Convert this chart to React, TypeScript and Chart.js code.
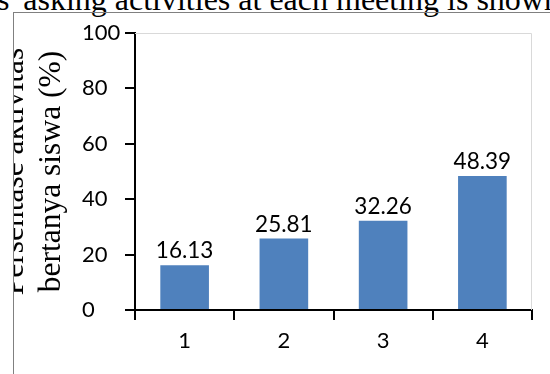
import React, { useEffect, useRef } from "react";
import { Chart, registerables } from "chart.js";

Chart.register(...registerables);

const categories: string[] = ["1", "2", "3", "4"];
const values: number[] = [16.13, 25.81, 32.26, 48.39];
const yMin = 0;
const yMax = 100;
const yStep = 20;
const yTitleLines: string[] = ["Persentase aktivitas", "bertanya siswa (%)"];
const captionText = "s' asking activities at each meeting is shown";

const BAR_COLOR = "#4f81bd";
const LABEL_FONT = "Lato";
const SERIF_FONT = "'Liberation Serif', 'Times New Roman', serif";

const plotFrame = {
  id: "plotFrame",
  beforeDatasetsDraw(chart: any) {
    const { ctx, chartArea } = chart;
    const { left, right, top, bottom } = chartArea;
    ctx.save();
    ctx.strokeStyle = "#d9d9d9";
    ctx.lineWidth = 1;
    ctx.beginPath();
    ctx.moveTo(left, top + 0.5);
    ctx.lineTo(right - 0.5, top + 0.5);
    ctx.lineTo(right - 0.5, bottom);
    ctx.stroke();
    ctx.restore();
  },
};

const valueLabels = {
  id: "valueLabels",
  afterDatasetsDraw(chart: any) {
    const { ctx } = chart;
    const meta = chart.getDatasetMeta(0);
    ctx.save();
    ctx.font = `22.5px ${LABEL_FONT}`;
    ctx.fillStyle = "#000";
    ctx.textAlign = "center";
    ctx.textBaseline = "alphabetic";
    meta.data.forEach((bar: any, i: number) => {
      ctx.fillText(values[i].toFixed(2), bar.x, bar.y - 7);
    });
    ctx.restore();
  },
};

export default function App() {
  const canvasRef = useRef<HTMLCanvasElement | null>(null);

  useEffect(() => {
    document.body.style.margin = "0";
    const canvas = canvasRef.current;
    if (!canvas) return;
    const chart = new Chart(canvas, {
      type: "bar",
      data: {
        labels: categories,
        datasets: [
          {
            data: values,
            backgroundColor: BAR_COLOR,
            borderWidth: 0,
            categoryPercentage: 1,
            barPercentage: 0.49,
          },
        ],
      },
      options: {
        responsive: false,
        animation: false,
        devicePixelRatio: 1,
        layout: { padding: { left: 82, top: 33, right: 18, bottom: 0 } },
        plugins: {
          legend: { display: false },
          tooltip: { enabled: false },
        },
        scales: {
          x: {
            type: "category",
            grid: {
              display: true,
              drawOnChartArea: false,
              drawTicks: true,
              tickLength: 10,
              color: "#000",
              lineWidth: 2,
              offset: true,
            },
            border: { display: true, color: "#000", width: 2 },
            ticks: {
              font: { family: LABEL_FONT, size: 22 },
              color: "#000",
              padding: 8,
            },
            afterFit: (s: any) => {
              s.height = 64;
            },
          },
          y: {
            min: yMin,
            max: yMax,
            ticks: {
              stepSize: yStep,
              crossAlign: "far",
              padding: 7,
              font: { family: LABEL_FONT, size: 22 },
              color: "#000",
            },
            grid: {
              display: true,
              drawOnChartArea: false,
              drawTicks: true,
              tickLength: 10,
              color: "#000",
              lineWidth: 2,
            },
            border: { display: true, color: "#000", width: 2 },
            title: {
              display: true,
              text: yTitleLines,
              color: "#000",
              font: { family: SERIF_FONT, size: 31.5, lineHeight: 37 / 31.5 },
              padding: { top: -86, bottom: 0 },
            },
            afterFit: (s: any) => {
              s.width = 53;
            },
          },
        },
      },
      plugins: [plotFrame, valueLabels],
    } as any);
    return () => chart.destroy();
  }, []);

  return (
    <div
      style={{
        position: "fixed",
        left: 0,
        top: 0,
        width: 550,
        height: 374,
        overflow: "hidden",
        background: "#fff",
      }}
    >
      <div
        style={{
          position: "absolute",
          left: -3,
          top: -17,
          fontFamily: SERIF_FONT,
          fontSize: 32,
          lineHeight: "32px",
          whiteSpace: "nowrap",
          color: "#000",
        }}
      >
        {captionText}
      </div>
      <div
        style={{
          position: "absolute",
          left: 13,
          top: 12,
          width: 600,
          height: 400,
          border: "1px solid #808080",
          boxSizing: "border-box",
        }}
      />
      <div
        style={{
          position: "absolute",
          left: 14,
          top: 13,
          width: 536,
          height: 361,
          overflow: "hidden",
        }}
      >
        <canvas
          ref={canvasRef}
          width={550}
          height={374}
          style={{ position: "absolute", left: -14, top: -13, display: "block" }}
        />
      </div>
    </div>
  );
}
